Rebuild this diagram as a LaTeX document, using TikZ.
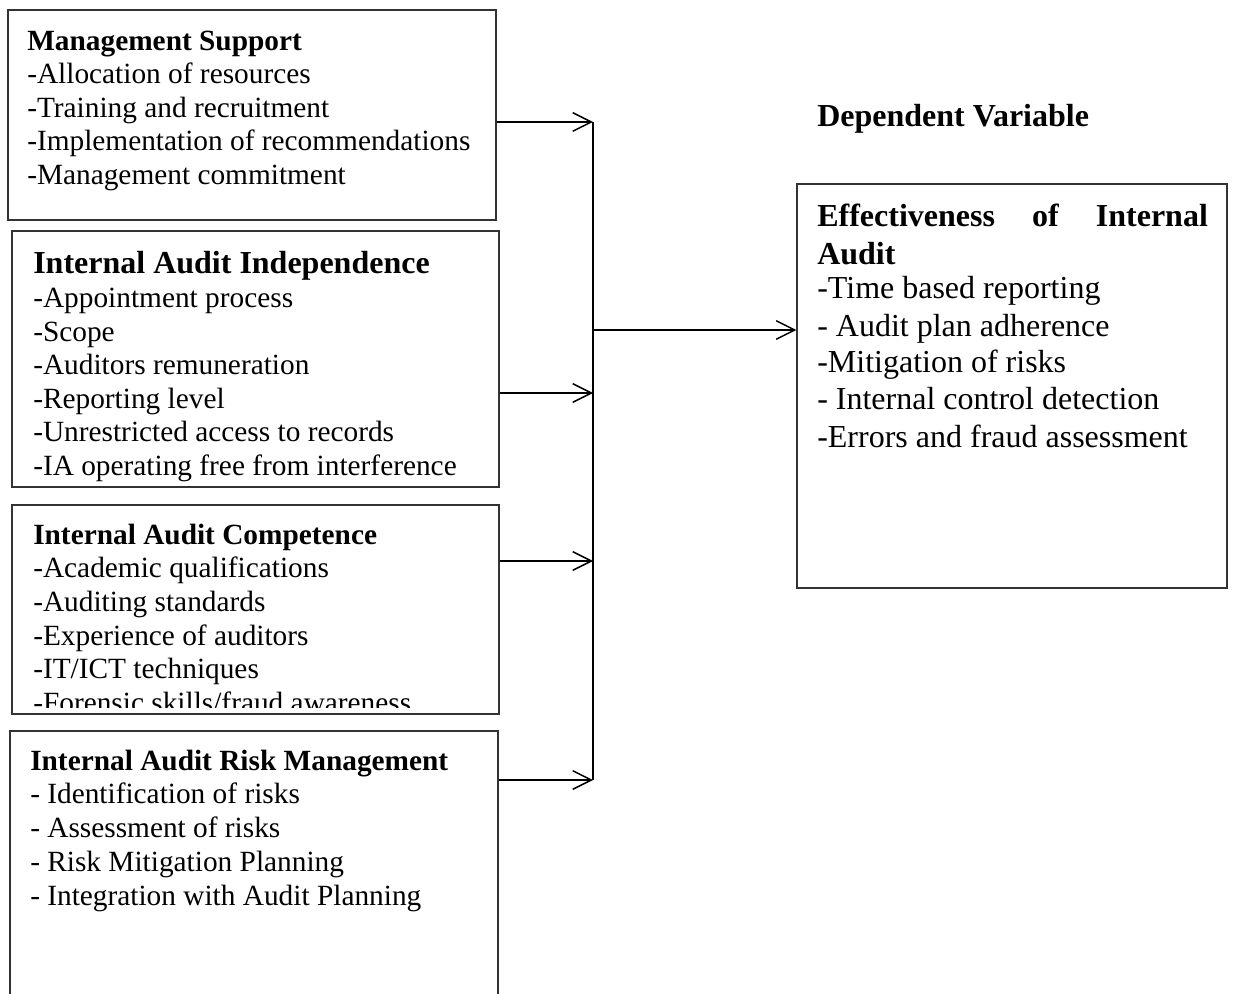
\documentclass[tikz,border=0pt]{standalone}
\usepackage{fontspec}
\setmainfont{Liberation Serif}
\usetikzlibrary{arrows.meta,fit}
\begin{document}
\begin{tikzpicture}[x=0.75pt,y=-0.75pt,
  box/.style={draw=black!80, line width=0.8pt, inner sep=0pt},
  txt/.style={anchor=base west, inner sep=0pt, font=\fontsize{22}{26}\selectfont},
  ttl/.style={anchor=base west, inner sep=0pt, font=\bfseries\fontsize{22}{26}\selectfont},
  big/.style={anchor=base west, inner sep=0pt, font=\fontsize{24}{28}\selectfont},
  bigttl/.style={anchor=base west, inner sep=0pt, font=\bfseries\fontsize{24}{28}\selectfont},
  arr/.style={line width=1.1pt, -{Straight Barb[length=14pt,width=14pt,line width=1.1pt]}},
  bus/.style={line width=1.1pt}]
\useasboundingbox (0,0) rectangle (1234,994);
\clip (0,0) rectangle (1234,994);

% ---- boxes
\node[box, fit={(8,10) (496,220)}] (ms) {};
\node[box, fit={(12,231) (499,487)}] (ind) {};
\node[box, fit={(12,505) (499,714)}] (comp) {};
\node[box, fit={(10,731) (498,1010)}] (risk) {};
\node[box, fit={(797,184) (1227,588)}] (eff) {};

% ---- Management Support
\node[ttl] (ms0) at (27,51) {Management Support};
\foreach \t [count=\i] in {-Allocation of resources,-Training and recruitment,-Implementation of recommendations,-Management commitment}
  \node[txt] (ms\i) at (27,{84+33.5*(\i-1)}) {\t};

% ---- Independence
\node[bigttl] (ind0) at (33,273.5) {Internal Audit Independence};
\foreach \t [count=\i] in {-Appointment process,-Scope,-Auditors remuneration,-Reporting level,-Unrestricted access to records,-IA operating free from interference}
  \node[txt] (ind\i) at (33,{307.5+33.6*(\i-1)}) {\t};

% ---- Competence
\node[ttl] (comp0) at (33,544.5) {Internal Audit Competence};
\begin{scope}
  \clip (12,505) rectangle (499,707);
  \foreach \t [count=\i] in {-Academic qualifications,-Auditing standards,-Experience of auditors,-IT/ICT techniques,-Forensic skills/fraud awareness}
    \node[txt] (comp\i) at (33,{577.5+33.8*(\i-1)}) {\t};
\end{scope}

% ---- Risk Management
\node[ttl] (risk0) at (30,770.5) {Internal Audit Risk Management};
\foreach \t [count=\i] in {- Identification of risks,- Assessment of risks,- Risk Mitigation Planning,- Integration with Audit Planning}
  \node[txt] (risk\i) at (30,{803.5+34*(\i-1)}) {\t};

% ---- Dependent variable
\node[bigttl] (dvl) at (817,127) {Dependent Variable};
\node[big] (eff0) at (817,226.5) {\makebox[293pt][s]{\bfseries Effectiveness of Internal}};
\node[bigttl] (eff00) at (817,265) {Audit};
\node[big] (eff1) at (817,298.5) {-Time based reporting};
\node[big] (eff2) at (817,336.5) {- Audit plan adherence};
\node[big] (eff3) at (817,372.5) {-Mitigation of risks};
\node[big] (eff4) at (817,409.5) {- Internal control detection};
\node[big] (eff5) at (817,447.5) {-Errors and fraud assessment};

% ---- connectors
\coordinate (b1) at (593,122);
\coordinate (b2) at (593,393);
\coordinate (b3) at (593,561);
\coordinate (b4) at (593,780);
\coordinate (bm) at (593,330);
\draw[bus] (b1) -- (b4);
\draw[arr] (ms.east |- b1) -- (b1);
\draw[arr] (ind.east |- b2) -- (b2);
\draw[arr] (comp.east |- b3) -- (b3);
\draw[arr] (risk.east |- b4) -- (b4);
\draw[arr] (bm) -- (eff.west |- bm);
\end{tikzpicture}
\end{document}
